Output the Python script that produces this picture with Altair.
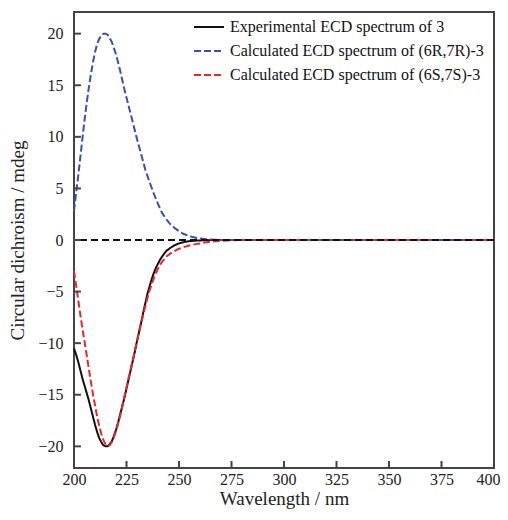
import altair as alt
import pandas as pd

# ---- data ----
exp_wl = [200, 201, 202, 203, 204, 205, 206, 207, 208, 209, 210, 211, 212, 213, 214, 215, 216,
          217, 218, 219, 220, 221, 222, 223, 224, 225, 226, 227, 228, 229, 230, 231, 232, 233,
          234, 235, 236, 237, 238, 239, 240, 241, 242, 243, 244, 246, 248, 250, 252, 254, 256,
          260, 265, 270, 300, 350, 400]
exp_cd = [-10.5, -11.1, -11.8, -12.6, -13.4, -14.1, -14.8, -15.5, -16.3, -17.1, -17.9, -18.6,
          -19.2, -19.6, -19.9, -20.0, -20.0, -19.8, -19.5, -19.0, -18.4, -17.7, -16.9, -16.1,
          -15.3, -14.4, -13.5, -12.6, -11.7, -10.8, -9.8, -8.9, -8.0, -7.0, -6.1, -5.2, -4.5,
          -3.8, -3.2, -2.7, -2.3, -1.9, -1.6, -1.3, -1.05, -0.75, -0.5, -0.33, -0.22, -0.14,
          -0.09, -0.04, -0.01, 0.0, 0.0, 0.0, 0.0]

rr_wl = [200, 201, 202, 203, 204, 205, 206, 207, 208, 209, 210, 211, 212, 213, 214, 215, 216,
         218, 220, 222, 224, 226, 228, 230, 232, 234, 236, 238, 240, 242, 244, 246, 248, 250,
         252, 254, 256, 258, 260, 263, 266, 270, 280, 300, 350, 400]
rr_cd = [2.8, 4.5, 6.2, 8.0, 9.8, 11.6, 13.2, 14.7, 16.0, 17.2, 18.2, 19.0, 19.5, 19.8, 20.0,
         20.0, 19.9, 19.2, 18.0, 16.4, 14.6, 13.0, 11.4, 9.8, 8.3, 6.8, 5.6, 4.5, 3.5, 2.6, 2.0,
         1.5, 1.15, 0.85, 0.6, 0.45, 0.32, 0.22, 0.15, 0.08, 0.04, 0.01, 0.0, 0.0, 0.0, 0.0]

ss_wl = [200, 201, 202, 203, 204, 205, 206, 207, 208, 209, 210, 211, 212, 213, 214, 215, 216,
         217, 218, 219, 220, 221, 222, 223, 224, 225, 226, 227, 228, 229, 230, 231, 232, 233,
         234, 235, 236, 237, 238, 239, 240, 241, 242, 243, 244, 246, 248, 250, 252, 254, 256,
         258, 260, 263, 266, 270, 275, 280, 300, 350, 400]
ss_cd = [-3.0, -4.4, -5.8, -7.2, -8.6, -9.8, -11.1, -12.4, -13.7, -14.9, -16.0, -17.1, -18.0,
         -18.8, -19.4, -19.8, -20.0, -19.9, -19.6, -19.1, -18.5, -17.8, -17.0, -16.1, -15.2,
         -14.3, -13.4, -12.5, -11.6, -10.7, -9.8, -8.9, -8.0, -7.2, -6.4, -5.6, -4.9, -4.3,
         -3.7, -3.2, -2.8, -2.4, -2.1, -1.85, -1.6, -1.3, -1.05, -0.85, -0.7, -0.58, -0.48,
         -0.4, -0.33, -0.22, -0.14, -0.07, -0.03, 0.0, 0.0, 0.0, 0.0]

series_names = ["Experimental ECD spectrum of 3",
                "Calculated ECD spectrum of (6R,7R)-3",
                "Calculated ECD spectrum of (6S,7S)-3"]
series_colors = ["#111111", "#3b4fb0", "#e8262d"]
series_dashes = [[1, 0], [7, 3], [7, 3]]

x_ticks = [200, 225, 250, 275, 300, 325, 350, 375, 400]
y_ticks = [-20, -15, -10, -5, 0, 5, 10, 15, 20]
X_DOM = [200, 400]
Y_DOM = [-22.1, 22.1]

frames = []
for name, wl, cd in [(series_names[0], exp_wl, exp_cd),
                     (series_names[1], rr_wl, rr_cd),
                     (series_names[2], ss_wl, ss_cd)]:
    frames.append(pd.DataFrame({"wl": wl, "cd": cd, "series": name}))
df = pd.concat(frames, ignore_index=True)

FONT = "Liberation Serif"
AX = "#444444"

xs = alt.Scale(domain=X_DOM, nice=False)
ys = alt.Scale(domain=Y_DOM, nice=False)

axis_common = dict(domain=False, ticks=False, labelFontSize=16, titleFontSize=19,
                   grid=False, labelColor="#222", titleColor="#222",
                   titleFontWeight="normal", labelFont=FONT, titleFont=FONT,
                   labelFlush=False)

legend_common = dict(title=None, orient="none", legendX=119, legendY=-1,
                     symbolType="stroke", symbolSize=900, symbolStrokeWidth=2,
                     labelFontSize=16, labelFont=FONT, labelOffset=5, rowPadding=-7,
                     padding=0, labelColor="#111", labelLimit=400)

lines = alt.Chart(df).mark_line(strokeWidth=2).encode(
    x=alt.X("wl:Q", scale=xs,
            axis=alt.Axis(values=x_ticks, title="Wavelength / nm", labelPadding=3,
                          titlePadding=2,
                          labelOffset={"condition": {"test": "datum.value == 400",
                                                     "value": -6}, "value": 0},
                          **axis_common)),
    y=alt.Y("cd:Q", scale=ys,
            axis=alt.Axis(values=y_ticks, title="Circular dichroism / mdeg", labelPadding=11,
                          titlePadding=10, **axis_common)),
    color=alt.Color("series:N", scale=alt.Scale(domain=series_names, range=series_colors),
                    sort=series_names, legend=alt.Legend(**legend_common)),
    strokeDash=alt.StrokeDash("series:N",
                              scale=alt.Scale(domain=series_names, range=series_dashes),
                              sort=series_names, legend=alt.Legend(**legend_common)),
    order=alt.Order("wl:Q"),
)

zero = alt.Chart(df).mark_rule(color="#111111", strokeWidth=2, strokeDash=[7, 4]).encode(
    y=alt.datum(0)
)

# inward tick marks (length ~7 px) drawn through the same scales
xt_df = pd.DataFrame({"t": x_ticks, "y0": Y_DOM[0], "y1": Y_DOM[0] + 0.68})
yt_df = pd.DataFrame({"t": y_ticks, "x0": X_DOM[0], "x1": X_DOM[0] + 3.3})

xtick_layer = alt.Chart(xt_df).mark_rule(color=AX, strokeWidth=2).encode(
    x=alt.X("t:Q", scale=xs), y=alt.Y("y0:Q", scale=ys), y2=alt.Y2("y1"))
ytick_layer = alt.Chart(yt_df).mark_rule(color=AX, strokeWidth=2).encode(
    y=alt.Y("t:Q", scale=ys), x=alt.X("x0:Q", scale=xs), x2=alt.X2("x1"))

chart = alt.layer(lines, zero, xtick_layer, ytick_layer).properties(
    width=420, height=456,
    autosize=alt.AutoSizeParams(type="none"),
    padding={"left": 66, "top": 4, "right": 6, "bottom": 44},
).configure(font=FONT).configure_view(stroke=AX, strokeWidth=2)

chart.save("out.html", embed_options={"renderer": "svg", "actions": False})
